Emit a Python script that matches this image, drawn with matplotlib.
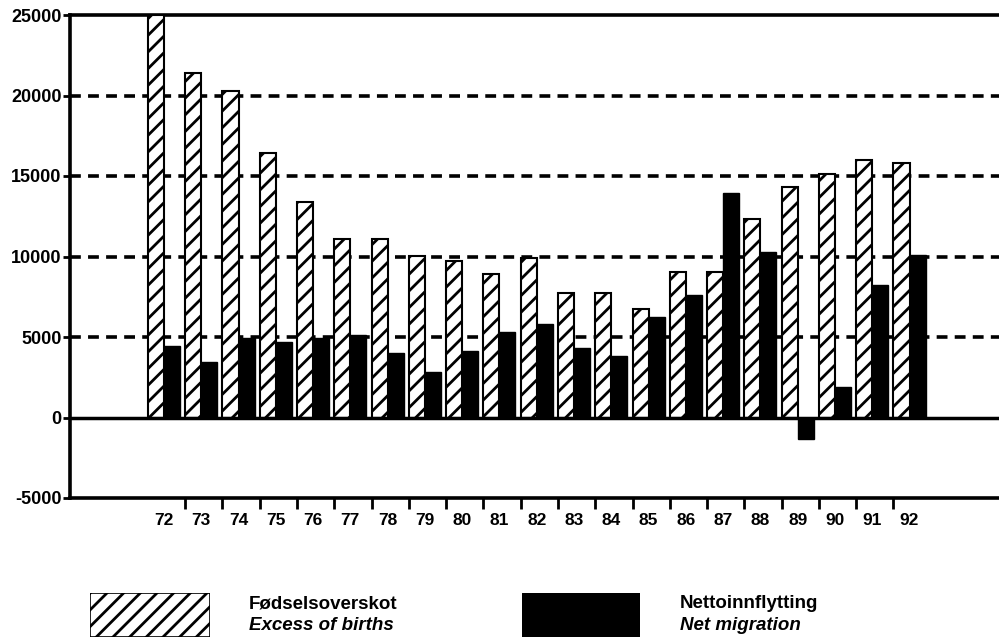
import matplotlib.pyplot as plt
import numpy as np

plt.rcParams['font.family'] = ['Liberation Sans', 'DejaVu Sans']
plt.rcParams['axes.unicode_minus'] = False
plt.rcParams['hatch.linewidth'] = 2.0

# data
years = [72, 73, 74, 75, 76, 77, 78, 79, 80, 81, 82,
         83, 84, 85, 86, 87, 88, 89, 90, 91, 92]
excess_births = [25000, 21400, 20300, 16400, 13400, 11100, 11100, 10050, 9750, 8900, 9900,
                 7750, 7750, 6750, 9050, 9050, 12300, 14300, 15100, 16000, 15800]
net_migration = [4450, 3450, 4950, 4700, 4950, 5100, 4000, 2800, 4150, 5300, 5800,
                 4300, 3800, 6250, 7600, 13950, 10250, -1350, 1900, 8200, 10100]
year_labels = [str(y) for y in years]

fig = plt.figure(figsize=(9.99, 6.41), dpi=100)
ax = fig.add_axes([70 / 999, (641 - 498) / 641, 1 - 70 / 999, (498 - 15) / 641])

x = np.array(years, dtype=float)
w = 0.43
ax.bar(x - w / 2, excess_births, width=w, color='white', edgecolor='black',
       linewidth=1.5, hatch='//', zorder=3)
ax.bar(x + w / 2, net_migration, width=w, color='black', edgecolor='black',
       linewidth=1.0, zorder=3)

ax.set_xlim(69.48, 94.4)
ax.set_ylim(-5000, 25000)

# dashed grid
for g in [5000, 10000, 15000, 20000]:
    ax.axhline(g, color='black', lw=2.6, ls=(0, (3, 2)), zorder=1)
ax.axhline(0, color='black', lw=2.5, zorder=4)

for side in ['left', 'top', 'bottom']:
    ax.spines[side].set_linewidth(2.6)
ax.spines['right'].set_visible(False)

ax.set_yticks([-5000, 0, 5000, 10000, 15000, 20000, 25000])
ax.tick_params(axis='y', length=5, width=2, labelsize=13, pad=1)

ax.set_xticks(x)
ax.set_xticklabels(year_labels)
ax.tick_params(axis='x', which='major', length=0, labelsize=12.5, pad=11)
ax.set_xticks(x[1:] - w, minor=True)
ax.tick_params(axis='x', which='minor', length=8, width=2, direction='out')
for lab in ax.get_xticklabels() + ax.get_yticklabels():
    lab.set_fontweight('bold')

# legend
lg1 = fig.add_axes([90 / 999, 1 - 637 / 641, 120 / 999, 44 / 641])
lg1.bar([0], [1], width=1, color='white', edgecolor='black', linewidth=1.2, hatch='//')
lg1.set_xlim(-0.5, 0.5)
lg1.set_ylim(0, 1)
lg1.axis('off')
lg2 = fig.add_axes([522 / 999, 1 - 637 / 641, 118 / 999, 44 / 641])
lg2.bar([0], [1], width=1, color='black', edgecolor='black')
lg2.set_xlim(-0.5, 0.5)
lg2.set_ylim(0, 1)
lg2.axis('off')

fig.text(249 / 999, 1 - 604 / 641, 'Fødselsoverskot', fontsize=13.5, va='center', weight='bold')
fig.text(249 / 999, 1 - 625 / 641, 'Excess of births', fontsize=13.5, va='center',
         style='italic', weight='bold')
fig.text(680 / 999, 1 - 604 / 641, 'Nettoinnflytting', fontsize=13.5, va='center', weight='bold')
fig.text(680 / 999, 1 - 625 / 641, 'Net migration', fontsize=13.5, va='center',
         style='italic', weight='bold')

fig.savefig('out.png', dpi=100)
